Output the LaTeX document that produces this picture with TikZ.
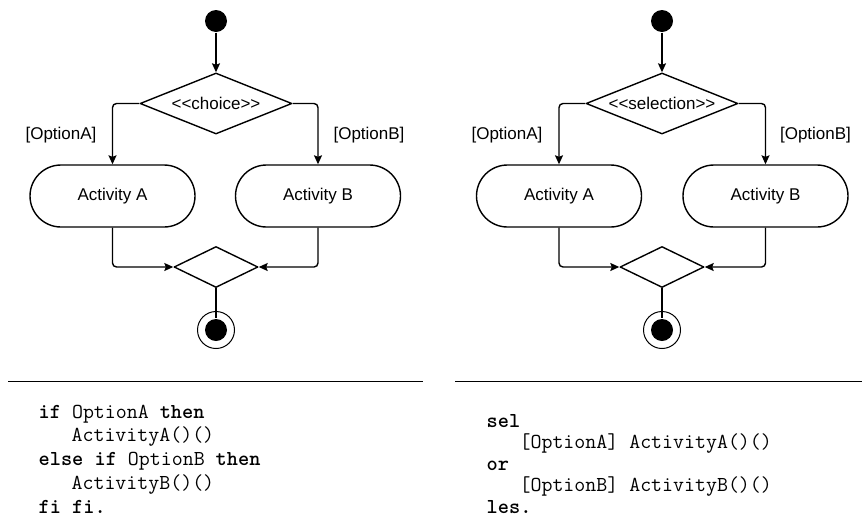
\documentclass[tikz,border=0pt]{standalone}
\usepackage{fontspec}
\setmainfont{Liberation Sans}
\usetikzlibrary{arrows.meta,shapes.geometric,positioning}

\tikzset{
  initial/.style={circle, fill=black, inner sep=0pt, minimum size=22pt},
  final/.style={circle, draw, line width=1pt, inner sep=0pt, minimum size=37pt},
  decision/.style={diamond, draw, shape aspect=2.46, inner sep=0pt,
    minimum width=152pt, minimum height=61pt},
  merge/.style={diamond, draw, inner sep=0pt, minimum width=84pt, minimum height=41pt},
  activity/.style={draw, rounded corners=31pt, minimum width=165pt, minimum height=62pt},
  guard/.style={inner sep=0pt},
  flow/.style={-{Stealth[length=9pt,width=8pt,inset=1.5pt]}, rounded corners=4pt},
  rule/.style={line width=1pt},
  code/.style={font=\ttfamily\fontsize{21.3}{24}\selectfont, inner sep=0pt, anchor=base west},
}

\begin{document}
\begin{tikzpicture}[x=1pt,y=-1pt,line width=1.4pt,line join=round,
  every node/.append style={font=\fontsize{17}{20}\selectfont}]
\useasboundingbox (0,0) rectangle (862,531);
%%
% Nodes: choice
\node[initial] (start1) at (216,21) {};
\node[decision] (choice1) at (216,103.5) {<\kern0pt<choice>\kern0pt>};
\node[activity] (actA1) at (112.5,196) {Activity A};
\node[activity] (actB1) at (318,196) {Activity B};
\node[merge] (merge1) at (216,267) {};
\node[final] (stop1) at (216,330) {};
\node[initial] (stopdot1) at (stop1) {};
\node[guard] (guardA1) at (61,135) {[OptionA]};
\node[guard] (guardB1) at (369,135) {[OptionB]};
% Edges: choice
\draw[flow] (start1) -- (choice1);
\draw[flow] (choice1.west) -| (actA1);
\draw[flow] (choice1.east) -| (actB1);
\draw[flow] (actA1) |- (merge1.west);
\draw[flow] (actB1) |- (merge1.east);
\draw (merge1.south) -- (stopdot1.north);
%%
% Nodes: selection
\node[initial] (start2) at (662,21) {};
\node[decision] (choice2) at (662,103.5) {<\kern0pt<selection>\kern0pt>};
\node[activity] (actA2) at (559,196) {Activity A};
\node[activity] (actB2) at (765.5,196) {Activity B};
\node[merge] (merge2) at (662,267) {};
\node[final] (stop2) at (662,330) {};
\node[initial] (stopdot2) at (stop2) {};
\node[guard] (guardA2) at (507,135) {[OptionA]};
\node[guard] (guardB2) at (815.5,135) {[OptionB]};
% Edges: selection
\draw[flow] (start2) -- (choice2);
\draw[flow] (choice2.west) -| (actA2);
\draw[flow] (choice2.east) -| (actB2);
\draw[flow] (actA2) |- (merge2.west);
\draw[flow] (actB2) |- (merge2.east);
\draw (merge2.south) -- (stopdot2.north);
%%
% Separators
\draw[rule] (8,381) -- (423,381);
\draw[rule] (455,381) -- (862,381);
% Code: if
\node[code] (codeL1) at (38,418) {\textbf{if} OptionA \textbf{then}};
\node[code] (codeL2) at (38,441.75) {\phantom{xxx}ActivityA()()};
\node[code] (codeL3) at (38,465.5) {\textbf{else if} OptionB \textbf{then}};
\node[code] (codeL4) at (38,489.25) {\phantom{xxx}ActivityB()()};
\node[code] (codeL5) at (38,513) {\textbf{fi fi.}};
% Code: sel
\node[code] (codeR1) at (486,427) {\textbf{sel}};
\node[code] (codeR2) at (486,448.5) {\phantom{xxx}[OptionA] ActivityA()()};
\node[code] (codeR3) at (486,470) {\textbf{or}};
\node[code] (codeR4) at (486,491.5) {\phantom{xxx}[OptionB] ActivityB()()};
\node[code] (codeR5) at (486,513) {\textbf{les.}};
\end{tikzpicture}
\end{document}
